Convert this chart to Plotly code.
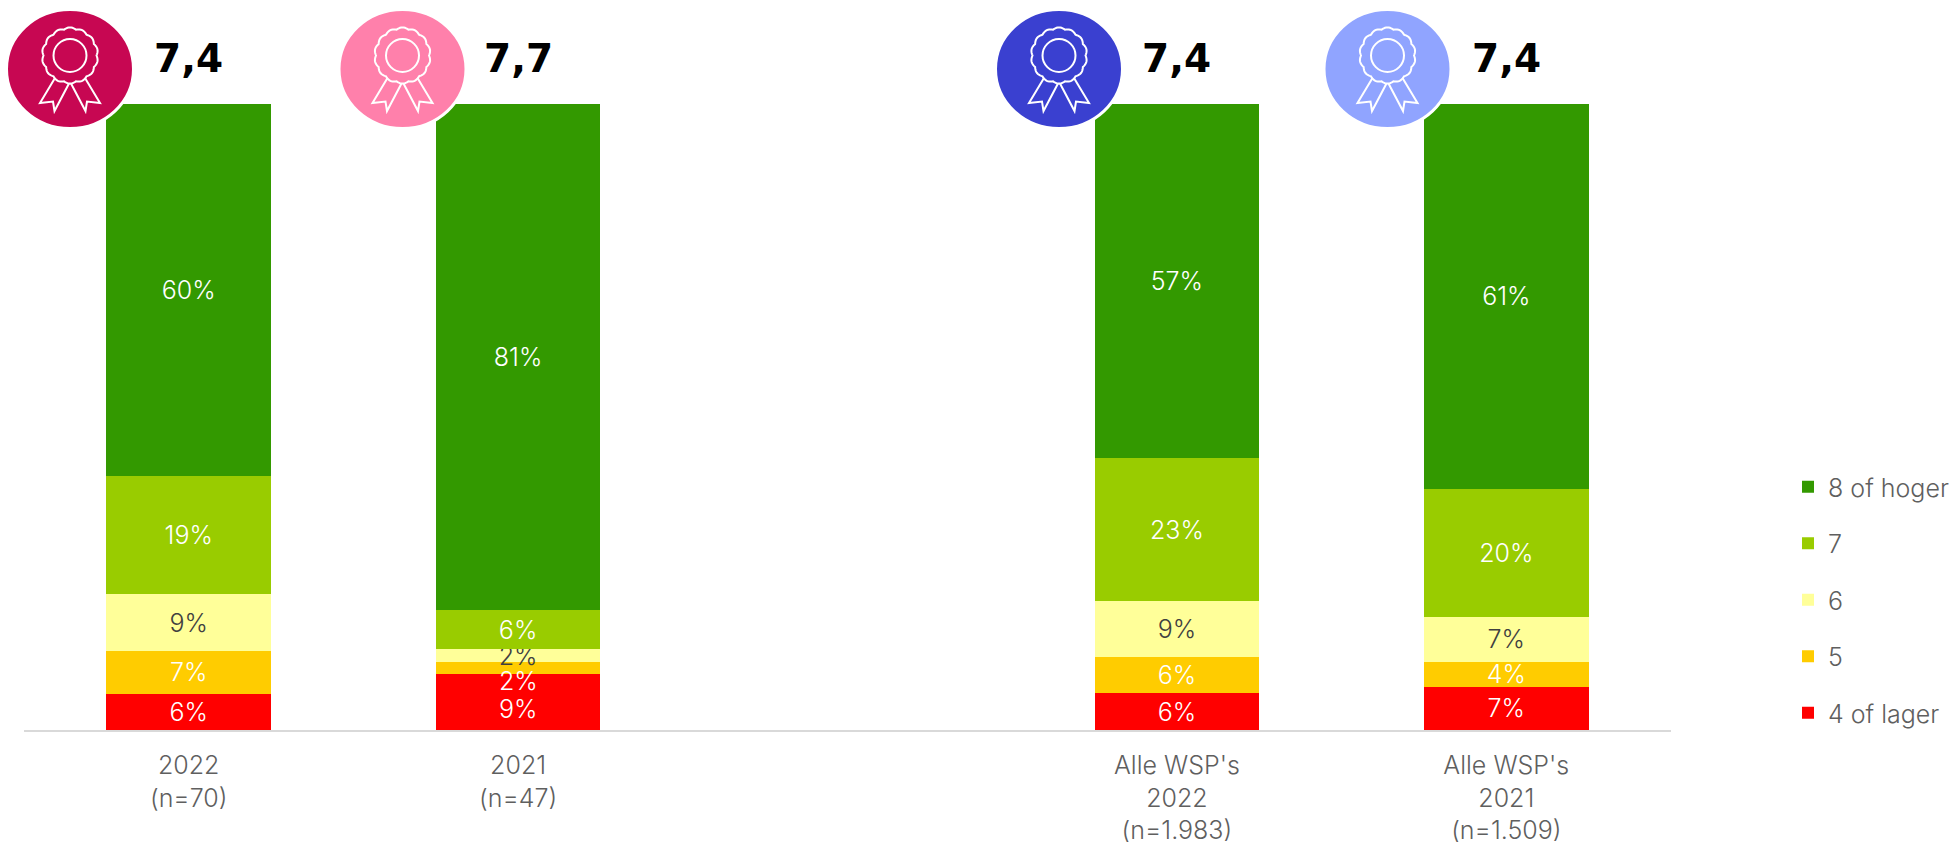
import math
import plotly.graph_objects as go

categories = ["2022<br>(n=70)", "2021<br>(n=47)", " ", "Alle WSP's<br>2022<br>(n=1.983)", "Alle WSP's<br>2021<br>(n=1.509)"]
series_names = ["4 of lager", "5", "6", "7", "8 of hoger"]
v_4_of_lager = [5.75, 8.9, None, 5.9, 6.9]
v_5 = [6.9, 2.0, None, 5.8, 4.0]
v_6 = [9.0, 2.0, None, 8.9, 7.2]
v_7 = [18.85, 6.2, None, 22.8, 20.41]
v_8_of_hoger = [59.5, 80.9, None, 56.6, 61.49]
scores = ["7,4", "7,7", None, "7,4", "7,4"]

series_values = [v_4_of_lager, v_5, v_6, v_7, v_8_of_hoger]
colors = ["#FF0000", "#FFCC00", "#FFFF99", "#99CC00", "#339900"]
label_colors = ["white", "white", "#404040", "white", "white"]
badge_colors = ["#C70752", "#FF80AB", "#3A40D0", "#90A4FF"]
badge_centers = [70, 402.5, 1059, 1387.5]
# labels in the 2021 bar that the source moves off their segment centre: series index -> pixels down
nudged_2021 = {0: 7, 1: 12.5}

W, H = 1959, 842
L, R, T, B = 24, 1671, 104, 730
LIGHT = "Inter"


def px(x):
    return (x - L) / (R - L)


def py(y):
    return (B - y) / (B - T)


def path(pts, close=True):
    s = "M " + " L ".join(f"{px(x):.5f},{py(y):.5f}" for x, y in pts)
    return s + (" Z" if close else "")


fig = go.Figure()
for rank, (name, vals, col, lc) in enumerate(zip(series_names, series_values, colors, label_colors)):
    templates = ["%{y:.0f}%"] * len(categories)
    if rank in nudged_2021:
        templates[1] = " "
    fig.add_trace(go.Bar(
        name=name, x=categories, y=vals, marker=dict(color=col, line=dict(width=0)),
        texttemplate=templates, textposition="inside", insidetextanchor="middle",
        textangle=0, constraintext="none",
        textfont=dict(family=LIGHT, size=25, color=lc, weight=300),
        legendgroup=name, legendrank=5 - rank, hoverinfo="skip",
    ))

shapes = []
for cx, col in zip(badge_centers, badge_colors):
    cy = 69
    shapes.append(dict(type="circle", xref="paper", yref="paper", x0=px(cx - 63.5), x1=px(cx + 63.5),
                       y0=py(cy + 59.5), y1=py(cy - 59.5), fillcolor=col,
                       line=dict(color="white", width=3), layer="above"))
    # scalloped rosette
    pts = []
    n = 140
    for i in range(n):
        a = 2 * math.pi * i / n
        r = 26.5 + 1.6 * abs(math.sin(7 * a))
        pts.append((cx + r * math.cos(a), 55.5 + r * math.sin(a)))
    shapes.append(dict(type="path", xref="paper", yref="paper", path=path(pts),
                       line=dict(color="white", width=2), layer="above"))
    shapes.append(dict(type="circle", xref="paper", yref="paper", x0=px(cx - 16.5), x1=px(cx + 16.5),
                       y0=py(55.5 + 16.5), y1=py(55.5 - 16.5), line=dict(color="white", width=2), layer="above"))
    for sgn in (-1, 1):
        rib = [(cx + sgn * 15, 78), (cx + sgn * 30, 103), (cx + sgn * 17, 101.5), (cx + sgn * 15.5, 111), (cx + sgn * 1, 83.5)]
        shapes.append(dict(type="path", xref="paper", yref="paper", path=path(rib, close=False),
                           line=dict(color="white", width=2), layer="above"))

annotations = []
for cat, sc in zip(categories, scores):
    if sc:
        annotations.append(dict(x=cat, y=100, xref="x", yref="y", text=sc, showarrow=False,
                                yanchor="middle", yshift=46,
                                font=dict(family="DejaVu Sans", size=39, color="black", weight="bold")))
for idx, shift in nudged_2021.items():
    base = sum(series_values[i][1] for i in range(idx))
    val = series_values[idx][1]
    annotations.append(dict(x=categories[1], y=base + val / 2, xref="x", yref="y", text=f"{val:.0f}%",
                            showarrow=False, yanchor="middle", yshift=-shift,
                            font=dict(family=LIGHT, size=25, color=label_colors[idx], weight=300)))

fig.update_layout(
    width=W, height=H, barmode="stack", bargap=0.5,
    margin=dict(l=L, r=W - R, t=T, b=H - B, autoexpand=False),
    paper_bgcolor="white", plot_bgcolor="white",
    shapes=shapes, annotations=annotations,
    showlegend=True,
    legend=dict(x=px(1788), xanchor="left", y=py(600), yanchor="middle",
                traceorder="grouped", tracegroupgap=21,
                font=dict(family=LIGHT, size=25, color="#5F5F5F", weight=300)),
    xaxis=dict(type="category", categoryorder="array", categoryarray=categories, tickvals=categories,
               ticktext=categories, showgrid=False, showline=True, linecolor="#D9D9D9", linewidth=2,
               ticks="outside", ticklen=12, tickcolor="rgba(0,0,0,0)", tickangle=0, zeroline=False,
               tickfont=dict(family=LIGHT, size=25, color="#5F5F5F", weight=300)),
    yaxis=dict(range=[0, 100], visible=False, fixedrange=True),
)
fig.write_html("out.html", config={"displayModeBar": False},
               post_script="document.body.style.margin='0';")
